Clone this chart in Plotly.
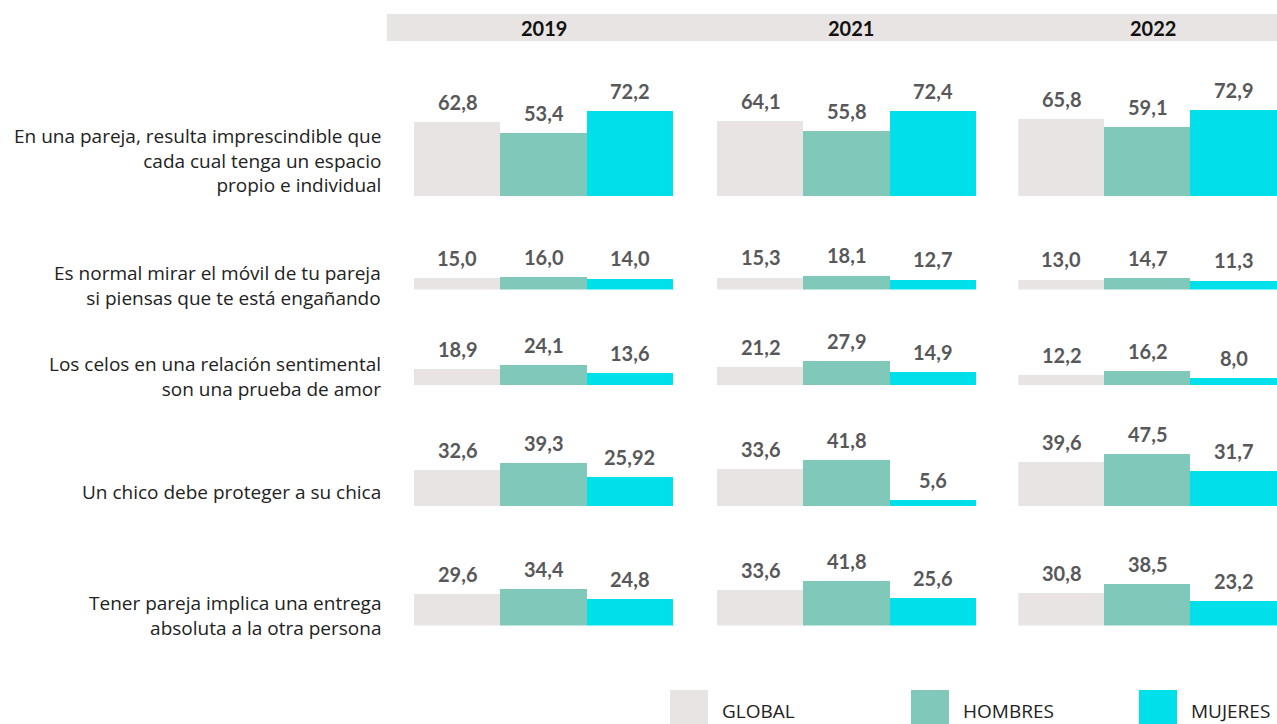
import plotly.graph_objects as go

W, H = 1277, 724

years = ["2019", "2021", "2022"]
groups = ["GLOBAL", "HOMBRES", "MUJERES"]
statements = [
    "En una pareja, resulta imprescindible que<br>cada cual tenga un espacio<br>propio e individual",
    "Es normal mirar el móvil de tu pareja<br>si piensas que te está engañando",
    "Los celos en una relación sentimental<br>son una prueba de amor",
    "Un chico debe proteger a su chica",
    "Tener pareja implica una entrega<br>absoluta a la otra persona",
]

# values[year] -> one row per statement: [GLOBAL, HOMBRES, MUJERES]
values_2019 = [
    [62.8, 53.4, 72.2],
    [15.0, 16.0, 14.0],
    [18.9, 24.1, 13.6],
    [32.6, 39.3, 25.92],
    [29.6, 34.4, 24.8],
]
values_2021 = [
    [64.1, 55.8, 72.4],
    [15.3, 18.1, 12.7],
    [21.2, 27.9, 14.9],
    [33.6, 41.8, 5.6],
    [33.6, 41.8, 25.6],
]
values_2022 = [
    [65.8, 59.1, 72.9],
    [13.0, 14.7, 11.3],
    [12.2, 16.2, 8.0],
    [39.6, 47.5, 31.7],
    [30.8, 38.5, 23.2],
]
values = [values_2019, values_2021, values_2022]

colors = ["#E8E4E3", "#7FC8BA", "#00E0EA"]

NUM_FONT = "Lato"
TEXT_FONT = "Open Sans"
LABEL_COLOR = "#222222"
VALUE_COLOR = "#58585A"

# layout geometry (pixels)
col_left = [414, 717, 1018.3]
col_width = 259
row_base = [196.5, 289.5, 385, 506, 625.5]
row_scale = [1.18, 0.8, 0.85, 1.1, 1.07]   # px per unit for each statement row
row_top = [80, 40, 40, 60, 50]
row_label_y = [161, 285, 376, 492, 615.5]
header_x = [544, 851, 1153]


def fmt(v):
    s = f"{v:.2f}"
    if s.endswith("0"):
        s = s[:-1]
    return s.replace(".", ",")


def px_x(p):
    return p / W


def px_y(p):
    return 1 - p / H


fig = go.Figure()
layout_axes = {}
annotations = []

for c in range(3):
    xname = "xaxis" if c == 0 else f"xaxis{c + 1}"
    layout_axes[xname] = dict(
        domain=[px_x(col_left[c]), min(1.0, px_x(col_left[c] + col_width))],
        range=[-0.5, 2.5], visible=False, fixedrange=True,
    )

for r in range(5):
    yname = "yaxis" if r == 0 else f"yaxis{r + 1}"
    top_px = row_base[r] - row_top[r] * row_scale[r]
    layout_axes[yname] = dict(
        domain=[px_y(row_base[r]), px_y(top_px)],
        range=[0, row_top[r]], visible=False, fixedrange=True,
    )

for c in range(3):
    xref = "x" if c == 0 else f"x{c + 1}"
    for r in range(5):
        yref = "y" if r == 0 else f"y{r + 1}"
        vals = values[c][r]
        fig.add_trace(go.Bar(
            x=[0, 1, 2], y=vals, width=1.0,
            marker=dict(color=colors, line=dict(width=0)),
            xaxis=xref, yaxis=yref, showlegend=False,
            hovertext=groups, hoverinfo="text+y",
        ))
        for i, v in enumerate(vals):
            annotations.append(dict(
                x=i, y=v, xref=xref, yref=yref, text=fmt(v),
                showarrow=False, yanchor="middle", yshift=20,
                font=dict(family=NUM_FONT, size=20, color=VALUE_COLOR, weight="bold"),
            ))

# statement labels
for r, txt in enumerate(statements):
    annotations.append(dict(
        x=px_x(383), y=px_y(row_label_y[r]), xref="paper", yref="paper",
        text=txt, showarrow=False, xanchor="right", yanchor="middle", align="right",
        font=dict(family=TEXT_FONT, size=19, color=LABEL_COLOR),
    ))

# year headers
shapes = [dict(
    type="rect", xref="paper", yref="paper", layer="below",
    x0=px_x(387), x1=1, y0=px_y(41), y1=px_y(14),
    fillcolor="#E8E4E3", line=dict(width=0),
)]
for c, yr in enumerate(years):
    annotations.append(dict(
        x=px_x(header_x[c]), y=px_y(28), xref="paper", yref="paper",
        text=yr, showarrow=False, xanchor="center", yanchor="middle",
        font=dict(family=NUM_FONT, size=20, color="#111111", weight="bold"),
    ))

# legend keys
legend_x = [670, 911, 1139]
for i, g in enumerate(groups):
    shapes.append(dict(
        type="rect", xref="paper", yref="paper",
        x0=px_x(legend_x[i]), x1=px_x(legend_x[i] + 38),
        y0=0, y1=px_y(690),
        fillcolor=colors[i], line=dict(width=0),
    ))
    annotations.append(dict(
        x=px_x(legend_x[i] + 50), y=px_y(711), xref="paper", yref="paper",
        text=g, showarrow=False, xanchor="left", yanchor="middle",
        font=dict(family=TEXT_FONT, size=19, color=LABEL_COLOR),
    ))

fig.update_layout(
    width=W, height=H, autosize=False,
    margin=dict(l=0, r=0, t=0, b=0),
    paper_bgcolor="white", plot_bgcolor="white",
    bargap=0, showlegend=False,
    annotations=annotations, shapes=shapes,
    **layout_axes,
)

fig.write_html("out.html", config={"displayModeBar": False})
